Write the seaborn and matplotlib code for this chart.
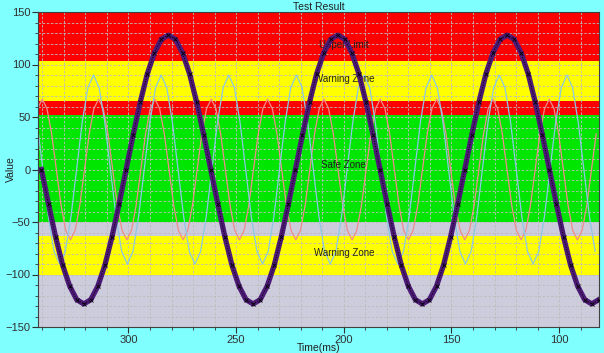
import matplotlib
matplotlib.use("Agg")
import numpy as np
import seaborn as sns
import matplotlib.pyplot as plt
from matplotlib.ticker import MultipleLocator

plt.rcParams['font.family'] = ['Liberation Sans', 'DejaVu Sans']

# ------ signal values ------ #
big_values = [
    0, -33, -64, -91, -111, -124, -128, -124, -111, -91, -64, -33,
    0, 33, 64, 91, 111, 124, 128, 124, 111, 91, 64, 33,
    0, -33, -64, -91, -111, -124, -128, -124, -111, -91, -64, -33,
    0, 33, 64, 91, 111, 124, 128, 124, 111, 91, 64, 33,
    0, -33, -64, -91, -111, -124, -128, -124, -111, -91, -64, -33,
    0, 33, 64, 91, 111, 124, 128, 124, 111, 91, 64, 33,
    0, -33, -64, -91, -111, -124, -128, -124,
]
cyan_values = [
    45, 0, -45, -78, -90, -78, -45, 0, 45, 78, 90, 78,
    45, 0, -45, -78, -90, -78, -45, 0, 45, 78, 90, 78,
    45, 0, -45, -78, -90, -78, -45, 0, 45, 78, 90, 78,
    45, 0, -45, -78, -90, -78, -45, 0, 45, 78, 90, 78,
    45, 0, -45, -78, -90, -78, -45, 0, 45, 78, 90, 78,
    45, 0, -45, -78, -90, -78, -45, 0, 45, 78, 90, 78,
    45, 0, -45, -78, -90, -78, -45, 0, 45, 78, 90, 78,
    45, 0, -45, -78, -90, -78, -45, 0, 45, 78, 90, 78,
    45, 0, -45, -78,
]
pink_values = [
    58, 67, 58, 34, 0, -34, -58, -67, -58, -34, 0, 34,
    58, 67, 58, 34, 0, -34, -58, -67, -58, -34, 0, 34,
    58, 67, 58, 34, 0, -34, -58, -67, -58, -34, 0, 34,
    58, 67, 58, 34, 0, -34, -58, -67, -58, -34, 0, 34,
    58, 67, 58, 34, 0, -34, -58, -67, -58, -34, 0, 34,
    58, 67, 58, 34, 0, -34, -58, -67, -58, -34, 0, 34,
    58, 67, 58, 34, 0, -34, -58, -67, -58, -34, 0, 34,
    58, 67, 58, 34, 0, -34, -58, -67, -58, -34, 0, 34,
    58, 67, 58, 34, 0, -34, -58, -67, -58, -34, 0, 34,
    58, 67, 58, 34, 0, -34, -58, -67, -58, -34, 0, 34,
]

# uniform sample times (ms), first and last sample
big_time = np.linspace(340.4, 81.6, len(big_values))
cyan_time = np.linspace(342.4, 83.3, len(cyan_values))
pink_time = np.linspace(342.2, 82.8, len(pink_values))

# ------ zones ------ #
zone_bounds = [-150, -100, -63, -50, 52, 65, 103, 150]
zone_colors = ["#ccccdc", "#ffff00", "#ccccdc", "#00e600",
               "#ff0000", "#ffff00", "#ff0000"]
zone_labels = ["Upper Limit", "Warning Zone", "Safe Zone", "Warning Zone"]
zone_label_y = [119, 86, 4, -80]
zone_label_x = 200

# ------ figure ------ #
fig = plt.figure(figsize=(6.04, 3.53), dpi=100, facecolor="#80ffff")
ax = fig.add_axes([38 / 604, 1 - 327 / 353, 561 / 604, 315 / 353])

for lo, hi, c in zip(zone_bounds[:-1], zone_bounds[1:], zone_colors):
    ax.axhspan(lo, hi, color=c, lw=0, zorder=0)

sns.lineplot(x=pink_time, y=pink_values, ax=ax, color="#f08c8c",
             linewidth=0.9, sort=False, zorder=2)
sns.lineplot(x=cyan_time, y=cyan_values, ax=ax, color="#8cc8e6",
             linewidth=0.9, sort=False, zorder=2)

for lbl, y in zip(zone_labels, zone_label_y):
    ax.text(zone_label_x, y, lbl, ha="center", va="center",
            fontsize=7, color="#202020", zorder=3)

sns.lineplot(x=big_time, y=big_values, ax=ax, color="#4e1a78",
             linewidth=3.8, sort=False, zorder=5)
ax.plot(big_time, big_values, color="black", lw=0.7,
        dashes=(1.0, 1.6), zorder=6)
ax.plot(big_time, big_values, linestyle="none", marker="x",
        markersize=3, markeredgewidth=0.6, color="black", zorder=6)

ax.set_xlim(342, 81.5)
ax.set_ylim(-150, 150)
ax.xaxis.set_major_locator(MultipleLocator(50))
ax.xaxis.set_minor_locator(MultipleLocator(10))
ax.yaxis.set_major_locator(MultipleLocator(50))
ax.yaxis.set_minor_locator(MultipleLocator(10))
ax.set_axisbelow(True)
ax.grid(which="both", color="#bdbdbd", linestyle=(0, (3, 2)),
        linewidth=0.6)
ax.tick_params(which="major", direction="out", length=4, width=0.8,
               labelsize=8, colors="#303030", pad=1.5)
ax.tick_params(which="minor", direction="out", length=2.5, width=0.6,
               colors="#303030")
for s in ax.spines.values():
    s.set_color("#404040")
    s.set_linewidth(0.8)

ax.set_title("Test Result", fontsize=7.5, pad=1.5, color="#202020")
ax.set_xlabel("Time(ms)", fontsize=7.5, labelpad=-1.5, color="#202020")
ax.set_ylabel("Value", fontsize=7.5, color="#202020", va="center")
ax.yaxis.set_label_coords(-0.049, 0.5)

fig.savefig("out.png", dpi=100, facecolor=fig.get_facecolor())
